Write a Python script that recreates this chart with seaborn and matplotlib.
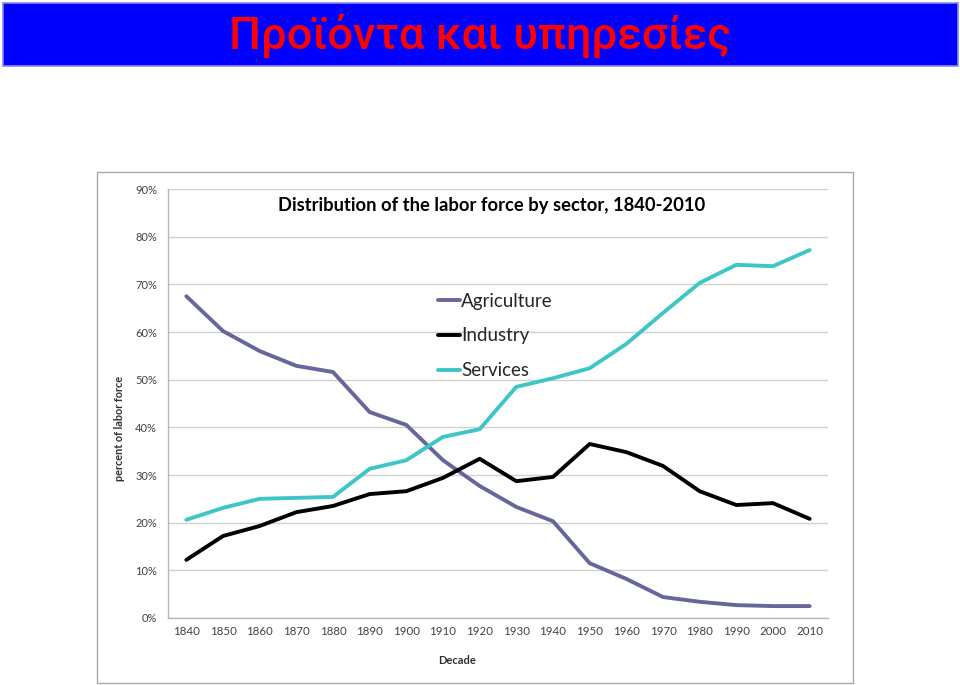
import numpy as np
import pandas as pd
import matplotlib
matplotlib.use("Agg")
import matplotlib.pyplot as plt
import seaborn as sns
from matplotlib.patches import Rectangle

decades = [1840, 1850, 1860, 1870, 1880, 1890, 1900, 1910, 1920, 1930,
           1940, 1950, 1960, 1970, 1980, 1990, 2000, 2010]
agriculture = [67.5, 60.2, 56.0, 52.9, 51.6, 43.2, 40.5, 33.1, 27.7, 23.3,
               20.3, 11.5, 8.2, 4.4, 3.4, 2.7, 2.5, 2.5]
industry = [12.2, 17.2, 19.3, 22.2, 23.5, 26.0, 26.6, 29.4, 33.4, 28.7,
            29.6, 36.5, 34.8, 31.9, 26.6, 23.7, 24.1, 20.8]
services = [20.6, 23.1, 25.0, 25.2, 25.4, 31.3, 33.1, 38.0, 39.6, 48.5,
            50.3, 52.4, 57.5, 64.0, 70.3, 74.1, 73.8, 77.2]
sectors = ["Agriculture", "Industry", "Services"]
ytick_vals = [0, 10, 20, 30, 40, 50, 60, 70, 80, 90]

header = "Προϊόντα και υπηρεσίες"
chart_title = "Distribution of the labor force by sector, 1840-2010"

df = pd.DataFrame({
    "Decade": decades * 3,
    "Share": [v / 100 for v in agriculture + industry + services],
    "Sector": [s for s in sectors for _ in decades],
})

sns.set_theme(style="white")
plt.rcParams["font.family"] = ["Lato", "DejaVu Sans"]

fig = plt.figure(figsize=(9.6, 6.85), dpi=100)

# header banner
fig.patches.append(Rectangle((3 / 960, 1 - 66 / 685), 955 / 960, 63 / 685,
                             transform=fig.transFigure, facecolor="#0000FF",
                             edgecolor="#8A8AE0", lw=1.2, zorder=0))
fig.text(0.5, 1 - 36 / 685, header, ha="center", va="center", color="#FF0000",
         fontsize=32.5, fontweight=500, family=["Roboto", "Liberation Sans", "DejaVu Sans"])

# chart frame
fig.patches.append(Rectangle((97 / 960, 1 - 683 / 685), 756 / 960, 511 / 685,
                             transform=fig.transFigure, facecolor="none",
                             edgecolor="#A8A8A8", lw=1.0, zorder=0))

ax = fig.add_axes([168 / 960, 1 - 618 / 685, 660 / 960, 429 / 685])
ax.set_zorder(2)
ax.patch.set_alpha(0)
palette = {"Agriculture": "#66669A", "Industry": "#000000", "Services": "#3EC6C6"}
sns.lineplot(data=df, x="Decade", y="Share", hue="Sector", palette=palette,
             linewidth=2.8, ax=ax, legend=False)

ax.set_xlim(1835, 2015)
ax.set_ylim(0, 0.9)
ax.set_xticks(decades)
ax.set_xticklabels([str(d) for d in decades], fontsize=8.3, color="#404040")
ax.set_xticks([d - 5 for d in decades] + [2015], minor=True)
ax.tick_params(axis="x", which="major", length=0, pad=6)
ax.tick_params(axis="x", which="minor", length=4, color="#B0B0B0", width=0.8, direction="out")
ax.set_yticks([v / 100 for v in ytick_vals])
ax.set_yticklabels([f"{v}%" for v in ytick_vals], fontsize=8, color="#404040")
ax.tick_params(axis="y", length=0, pad=8)
ax.grid(axis="y", color="#D0D0D0", lw=1.0)
ax.set_axisbelow(True)
for side in ["top", "right"]:
    ax.spines[side].set_visible(False)
for side in ["left", "bottom"]:
    ax.spines[side].set_color("#B8B8B8")
    ax.spines[side].set_linewidth(1.0)
ax.set_xlabel("")
ax.set_ylabel("")

fig.text(457 / 960, 1 - 660 / 685, "Decade", ha="center", va="center",
         fontsize=8, fontweight="bold", color="#303030")
fig.text(119.5 / 960, 1 - 428 / 685, "percent of labor force", ha="center", va="center",
         rotation=90, fontsize=7.8, fontweight="bold", color="#303030")
fig.text(492 / 960, 1 - 205 / 685, chart_title, ha="center", va="center",
         fontsize=13.2, fontweight="bold", color="#000000")

handles = [plt.Line2D([], [], color=palette[s], lw=2.8) for s in sectors]
ax.legend(handles, sectors, loc="upper left", frameon=False, fontsize=13.5,
          bbox_to_anchor=(421 / 960, 1 - 276 / 685), bbox_transform=fig.transFigure,
          handlelength=1.2, handletextpad=0.05, labelspacing=0.94)

fig.savefig("out.png", dpi=100)
